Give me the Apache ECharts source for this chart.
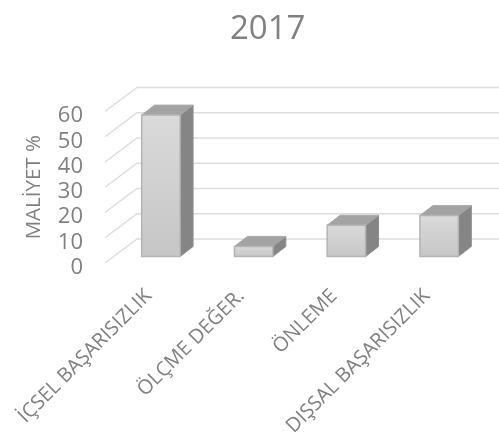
<!DOCTYPE html>
<html><head><meta charset="utf-8">
<style>html,body{margin:0;padding:0;background:#fff}#c{width:499px;height:440px}</style>
<script src="https://cdn.jsdelivr.net/npm/echarts@6/dist/echarts.min.js"></script>
</head><body><div id="c"></div>
<script>
var titleText = '2017';
var yName = 'MALİYET %';
var categories = ['İÇSEL BAŞARISIZLIK', 'ÖLÇME DEĞER.', 'ÖNLEME', 'DIŞSAL BAŞARISIZLIK'];
var values = [56, 4, 12.4, 16.2];
var yTicks = [0, 10, 20, 30, 40, 50, 60];

var WALL_DX = 32, WALL_DY = 24, BAR_DX = 9.5, BAR_DY = 6.5, DEPTH_DX = 13, DEPTH_DY = 10;
var font = '"Open Sans", sans-serif';
var chart = echarts.init(document.getElementById('c'), null, {renderer: 'canvas'});

function wallItem(params, api) {
  var cs = params.coordSys;
  var y = api.coord([0, api.value(1)])[1];
  return {
    type: 'polyline', silent: true,
    shape: {points: [[cs.x, y], [cs.x + WALL_DX, y - WALL_DY], [499, y - WALL_DY]]},
    style: {fill: null, stroke: '#dddddd', lineWidth: 1.5}
  };
}
function barItem(params, api) {
  var base = api.coord([api.value(0), 0]);
  var top = api.coord([api.value(0), api.value(1)]);
  var hw = api.size([1, 0])[0] * 0.207;
  var l = base[0] + BAR_DX - hw, r = base[0] + BAR_DX + hw;
  var b = base[1] - BAR_DY, t = top[1] - BAR_DY;
  var edge = '#b4b4b4';
  return {
    type: 'group', children: [
      {type: 'polygon', shape: {points: [[r, t], [r + DEPTH_DX, t - DEPTH_DY], [r + DEPTH_DX, b - DEPTH_DY], [r, b]]},
       style: {fill: '#858585', stroke: '#8e8e8e', lineWidth: 1}},
      {type: 'polygon', shape: {points: [[l, t], [l + DEPTH_DX, t - DEPTH_DY], [r + DEPTH_DX, t - DEPTH_DY], [r, t]]},
       style: {fill: '#a3a3a3', stroke: '#a8a8a8', lineWidth: 1}},
      {type: 'rect', shape: {x: l, y: t, width: r - l, height: b - t},
       style: {stroke: edge, lineWidth: 1.5,
         fill: {type: 'linear', x: 0, y: 0, x2: 0, y2: 1, colorStops: [
           {offset: 0, color: '#dadada'}, {offset: 1, color: '#c6c6c6'}]}}}
    ]
  };
}

chart.setOption({
  animation: false,
  backgroundColor: '#ffffff',
  title: {text: titleText, left: 225, top: 8, textStyle: {fontFamily: font, fontSize: 33, fontWeight: 'normal', color: '#808080'}},
  grid: {left: 105, top: 111.5, width: 371, height: 151.5, containLabel: false},
  xAxis: {
    type: 'category', data: categories,
    axisLine: {show: false}, axisTick: {show: false}, splitLine: {show: false},
    axisLabel: {rotate: 45, interval: 0, margin: 27, padding: [0, 4, 0, 0], fontFamily: font, fontSize: 20, color: '#808080'}
  },
  yAxis: {
    type: 'value', min: 0, max: 60, interval: 10,
    name: yName, nameLocation: 'middle', nameGap: 60, nameRotate: 90,
    nameTextStyle: {fontFamily: font, fontSize: 20.5, color: '#808080'},
    axisLine: {show: false}, axisTick: {show: false}, splitLine: {show: false},
    axisLabel: {margin: 22, verticalAlign: 'top', lineHeight: 9, fontFamily: font, fontSize: 22, color: '#808080'}
  },
  series: [
    {type: 'custom', renderItem: wallItem, encode: {x: 0, y: 1}, z: 1, silent: true,
     data: yTicks.map(function (t) { return [0, t]; })},
    {type: 'custom', renderItem: barItem, encode: {x: 0, y: 1}, z: 2,
     data: values.map(function (v, i) { return [i, v]; })}
  ]
});
</script></body></html>
